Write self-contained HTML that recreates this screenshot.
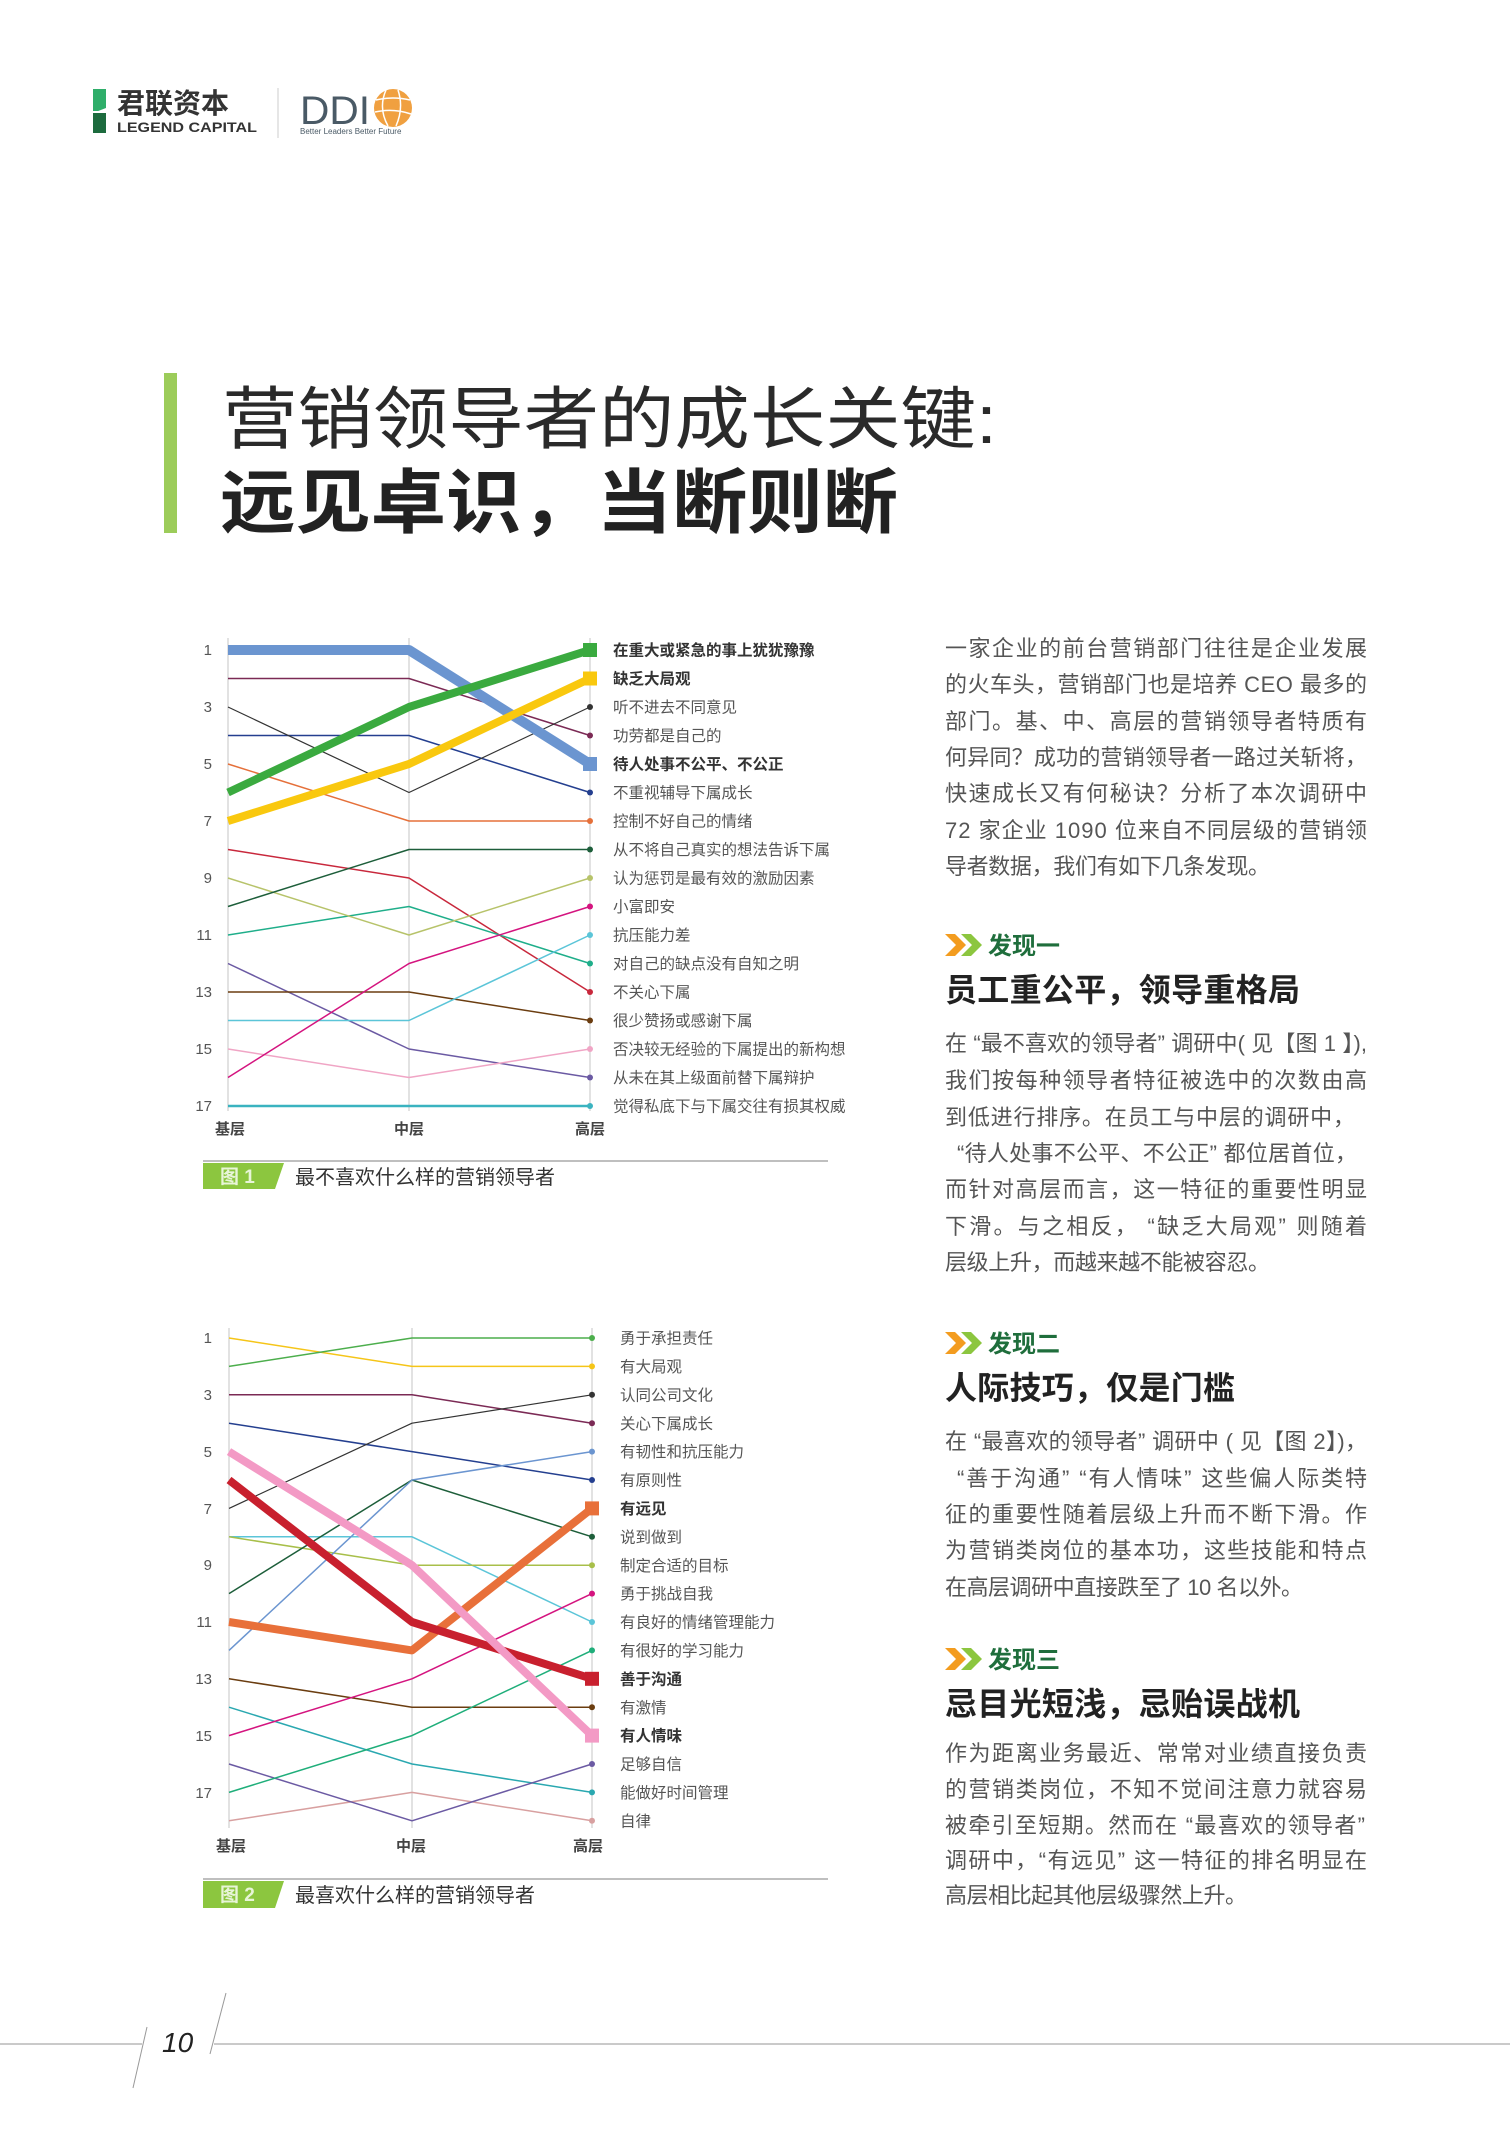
<!DOCTYPE html>
<html><head><meta charset="utf-8"><style>
html,body{margin:0;padding:0;background:#fff;}
svg{display:block;}
text{font-family:"Liberation Sans","Noto Sans CJK SC",sans-serif;}
.b{font-size:22px;fill:#555;}
.l1{font-size:15.5px;fill:#555;}
.bl{font-weight:bold;fill:#333;}
.rk{font-size:15px;fill:#555;text-anchor:end;}
.ax{font-size:15px;fill:#444;font-weight:bold;text-anchor:middle;}
</style></head><body>
<svg width="1510" height="2140" viewBox="0 0 1510 2140" xmlns="http://www.w3.org/2000/svg">
<!-- header -->
<rect x="93" y="89" width="13" height="22" fill="#2fae6a"/>
<rect x="93" y="113" width="13" height="20" fill="#1d6b3e"/>
<polygon points="93,113 106,108 106,113" fill="#fff"/>
<text x="117" y="113" font-size="28" font-weight="bold" fill="#333">君联资本</text>
<text x="117" y="132" font-size="14" font-weight="bold" fill="#333" textLength="140" lengthAdjust="spacingAndGlyphs">LEGEND CAPITAL</text>
<line x1="278" y1="88" x2="278" y2="138" stroke="#ccc" stroke-width="1"/>
<text x="300" y="124" font-size="40" fill="#4a5a66" textLength="70" lengthAdjust="spacingAndGlyphs">DDI</text>
<circle cx="393" cy="108" r="19" fill="#f0a040"/>
<path d="M376 100 Q393 96 410 100 M375 112 Q393 108 411 114 M386 90 Q378 108 388 126 M398 90 Q404 108 396 126" stroke="#fff" stroke-width="1.5" fill="none"/>
<text x="300" y="134" font-size="8" fill="#4a5a66">Better Leaders  Better Future</text>
<!-- title -->
<rect x="164" y="373" width="13" height="160" fill="#9ccc5a"/>
<text x="222" y="443" font-size="68" fill="#2a2a2a" textLength="775" lengthAdjust="spacingAndGlyphs">营销领导者的成长关键:</text>
<text x="220" y="527" font-size="70" font-weight="bold" fill="#222" textLength="678" lengthAdjust="spacingAndGlyphs">远见卓识，当断则断</text>

<!-- chart 1 -->
<g stroke="#cfcfcf" stroke-width="1.2"><line x1="228" y1="638" x2="228" y2="1111"/><line x1="409" y1="638" x2="409" y2="1111"/><line x1="590" y1="638" x2="590" y2="1111"/></g>
<g class="rk"><text x="212" y="655">1</text><text x="212" y="712">3</text><text x="212" y="769">5</text><text x="212" y="826">7</text><text x="212" y="883">9</text><text x="212" y="940">11</text><text x="212" y="997">13</text><text x="212" y="1054">15</text><text x="212" y="1111">17</text></g>
<g fill="none" stroke-linejoin="round">
<polyline points="228,1106 409,1106 590,1106" stroke="#3ab3c0" stroke-width="2.5"/>
<polyline points="228,963.5 409,1049 590,1077.5" stroke="#6b5aa3" stroke-width="1.5"/>
<polyline points="228,1049 409,1077.5 590,1049" stroke="#f0a5c5" stroke-width="1.5"/>
<polyline points="228,992 409,992 590,1020.5" stroke="#6b3d10" stroke-width="1.5"/>
<polyline points="228,849.5 409,878 590,992" stroke="#c8283c" stroke-width="1.5"/>
<polyline points="228,935 409,906.5 590,963.5" stroke="#1fae8a" stroke-width="1.5"/>
<polyline points="228,1020.5 409,1020.5 590,935" stroke="#5bc5d8" stroke-width="1.5"/>
<polyline points="228,1077.5 409,963.5 590,906.5" stroke="#d4147f" stroke-width="1.5"/>
<polyline points="228,878 409,935 590,878" stroke="#b7c36a" stroke-width="1.5"/>
<polyline points="228,906.5 409,849.5 590,849.5" stroke="#1d5e3a" stroke-width="1.5"/>
<polyline points="228,764 409,821 590,821" stroke="#e5703a" stroke-width="1.5"/>
<polyline points="228,735.5 409,735.5 590,792.5" stroke="#243f8f" stroke-width="1.5"/>
<polyline points="228,678.5 409,678.5 590,735.5" stroke="#7b2a55" stroke-width="1.5"/>
<polyline points="228,707 409,792.5 590,707" stroke="#333" stroke-width="1.2"/>
<polyline points="228,650 409,650 590,764" stroke="#6b95d0" stroke-width="10"/>
<polyline points="228,821 409,764 590,678.5" stroke="#f9c80e" stroke-width="8"/>
<polyline points="228,792.5 409,707 590,650" stroke="#3aaa3f" stroke-width="8"/>
</g>
<g>
<rect x="583" y="643" width="14" height="14" fill="#3aaa3f"/>
<rect x="583" y="671.5" width="14" height="14" fill="#f9c80e"/>
<rect x="583" y="757" width="14" height="14" fill="#6b95d0"/>
<circle cx="590" cy="707" r="3" fill="#333"/><circle cx="590" cy="735.5" r="3" fill="#7b2a55"/>
<circle cx="590" cy="792.5" r="3" fill="#243f8f"/><circle cx="590" cy="821" r="3" fill="#e5703a"/>
<circle cx="590" cy="849.5" r="3" fill="#1d5e3a"/><circle cx="590" cy="878" r="3" fill="#b7c36a"/>
<circle cx="590" cy="906.5" r="3" fill="#d4147f"/><circle cx="590" cy="935" r="3" fill="#5bc5d8"/>
<circle cx="590" cy="963.5" r="3" fill="#1fae8a"/><circle cx="590" cy="992" r="3" fill="#c8283c"/>
<circle cx="590" cy="1020.5" r="3" fill="#6b3d10"/><circle cx="590" cy="1049" r="3" fill="#f0a5c5"/>
<circle cx="590" cy="1077.5" r="3" fill="#6b5aa3"/><circle cx="590" cy="1106" r="3" fill="#3ab3c0"/>
</g>
<g class="l1">
<text x="613" y="655.5" class="bl">在重大或紧急的事上犹犹豫豫</text>
<text x="613" y="684" class="bl">缺乏大局观</text>
<text x="613" y="712.5">听不进去不同意见</text>
<text x="613" y="741">功劳都是自己的</text>
<text x="613" y="769.5" class="bl">待人处事不公平、不公正</text>
<text x="613" y="798">不重视辅导下属成长</text>
<text x="613" y="826.5">控制不好自己的情绪</text>
<text x="613" y="855">从不将自己真实的想法告诉下属</text>
<text x="613" y="883.5">认为惩罚是最有效的激励因素</text>
<text x="613" y="912">小富即安</text>
<text x="613" y="940.5">抗压能力差</text>
<text x="613" y="969">对自己的缺点没有自知之明</text>
<text x="613" y="997.5">不关心下属</text>
<text x="613" y="1026">很少赞扬或感谢下属</text>
<text x="613" y="1054.5">否决较无经验的下属提出的新构想</text>
<text x="613" y="1083">从未在其上级面前替下属辩护</text>
<text x="613" y="1111.5">觉得私底下与下属交往有损其权威</text>
</g>
<g class="ax"><text x="230" y="1134">基层</text><text x="409" y="1134">中层</text><text x="590" y="1134">高层</text></g>
<line x1="203" y1="1161" x2="828" y2="1161" stroke="#aaa" stroke-width="1.5"/>
<polygon points="203,1163 284,1163 275,1189 203,1189" fill="#8cc63f"/>
<text x="220" y="1183" font-size="19" font-weight="bold" fill="#e8f5d8">图 1</text>
<text x="295" y="1184" font-size="20" fill="#333">最不喜欢什么样的营销领导者</text>

<!-- chart 2 -->
<g stroke="#cfcfcf" stroke-width="1.2"><line x1="229" y1="1328" x2="229" y2="1828"/><line x1="412" y1="1328" x2="412" y2="1828"/><line x1="592" y1="1328" x2="592" y2="1828"/></g>
<g class="rk"><text x="212" y="1343">1</text><text x="212" y="1400">3</text><text x="212" y="1457">5</text><text x="212" y="1514">7</text><text x="212" y="1570">9</text><text x="212" y="1627">11</text><text x="212" y="1684">13</text><text x="212" y="1741">15</text><text x="212" y="1798">17</text></g>
<g fill="none" stroke-linejoin="round" stroke-width="1.5">
<polyline points="229,1820.8 412,1792.4 592,1820.8" stroke="#d8a0a0"/>
<polyline points="229,1707.2 412,1764 592,1792.4" stroke="#2aa8b0"/>
<polyline points="229,1764 412,1820.8 592,1764" stroke="#6b5aa3"/>
<polyline points="229,1678.8 412,1707.2 592,1707.2" stroke="#6b3d10"/>
<polyline points="229,1792.4 412,1735.6 592,1650.4" stroke="#1fae7a"/>
<polyline points="229,1536.8 412,1536.8 592,1622" stroke="#5bc5d8"/>
<polyline points="229,1735.6 412,1678.8 592,1593.6" stroke="#d4147f"/>
<polyline points="229,1536.8 412,1565.2 592,1565.2" stroke="#a8bf4a"/>
<polyline points="229,1593.6 412,1480 592,1536.8" stroke="#1d5e3a"/>
<polyline points="229,1423.2 412,1451.6 592,1480" stroke="#243f8f"/>
<polyline points="229,1650.4 412,1480 592,1451.6" stroke="#6b95d0"/>
<polyline points="229,1394.8 412,1394.8 592,1423.2" stroke="#7b2a55"/>
<polyline points="229,1508.4 412,1423.2 592,1394.8" stroke="#333" stroke-width="1.2"/>
<polyline points="229,1338 412,1366.4 592,1366.4" stroke="#f5c518"/>
<polyline points="229,1366.4 412,1338 592,1338" stroke="#4cae4c"/>
<polyline points="229,1622 412,1650.4 592,1508.4" stroke="#e8703a" stroke-width="8"/>
<polyline points="229,1480 412,1622 592,1678.8" stroke="#c8202e" stroke-width="8"/>
<polyline points="229,1451.6 412,1565.2 592,1735.6" stroke="#f39ac5" stroke-width="8"/>
</g>
<g>
<rect x="585" y="1501.4" width="14" height="14" fill="#e8703a"/>
<rect x="585" y="1671.8" width="14" height="14" fill="#c8202e"/>
<rect x="585" y="1728.6" width="14" height="14" fill="#f39ac5"/>
<circle cx="592" cy="1338" r="3" fill="#4cae4c"/><circle cx="592" cy="1366.4" r="3" fill="#f5c518"/>
<circle cx="592" cy="1394.8" r="3" fill="#333"/><circle cx="592" cy="1423.2" r="3" fill="#7b2a55"/>
<circle cx="592" cy="1451.6" r="3" fill="#6b95d0"/><circle cx="592" cy="1480" r="3" fill="#243f8f"/>
<circle cx="592" cy="1536.8" r="3" fill="#1d5e3a"/><circle cx="592" cy="1565.2" r="3" fill="#a8bf4a"/>
<circle cx="592" cy="1593.6" r="3" fill="#d4147f"/><circle cx="592" cy="1622" r="3" fill="#5bc5d8"/>
<circle cx="592" cy="1650.4" r="3" fill="#1fae7a"/><circle cx="592" cy="1707.2" r="3" fill="#6b3d10"/>
<circle cx="592" cy="1764" r="3" fill="#6b5aa3"/><circle cx="592" cy="1792.4" r="3" fill="#2aa8b0"/>
<circle cx="592" cy="1820.8" r="3" fill="#d8a0a0"/>
</g>
<g class="l1">
<text x="620" y="1343.5">勇于承担责任</text>
<text x="620" y="1372">有大局观</text>
<text x="620" y="1400.5">认同公司文化</text>
<text x="620" y="1429">关心下属成长</text>
<text x="620" y="1457">有韧性和抗压能力</text>
<text x="620" y="1485.5">有原则性</text>
<text x="620" y="1514" class="bl">有远见</text>
<text x="620" y="1542.5">说到做到</text>
<text x="620" y="1571">制定合适的目标</text>
<text x="620" y="1599">勇于挑战自我</text>
<text x="620" y="1627.5">有良好的情绪管理能力</text>
<text x="620" y="1656">有很好的学习能力</text>
<text x="620" y="1684.5" class="bl">善于沟通</text>
<text x="620" y="1713">有激情</text>
<text x="620" y="1741" class="bl">有人情味</text>
<text x="620" y="1769.5">足够自信</text>
<text x="620" y="1798">能做好时间管理</text>
<text x="620" y="1826.5">自律</text>
</g>
<g class="ax"><text x="231" y="1851">基层</text><text x="411" y="1851">中层</text><text x="588" y="1851">高层</text></g>
<line x1="203" y1="1879" x2="828" y2="1879" stroke="#aaa" stroke-width="1.5"/>
<polygon points="203,1881 284,1881 275,1908 203,1908" fill="#8cc63f"/>
<text x="220" y="1901" font-size="19" font-weight="bold" fill="#e8f5d8">图 2</text>
<text x="295" y="1902" font-size="20" fill="#333">最喜欢什么样的营销领导者</text>

<!-- right column -->
<g class="b">
<text x="945" y="656" textLength="422">一家企业的前台营销部门往往是企业发展</text>
<text x="945" y="692" textLength="422">的火车头，营销部门也是培养 CEO 最多的</text>
<text x="945" y="729" textLength="422">部门。基、中、高层的营销领导者特质有</text>
<text x="945" y="765" textLength="422">何异同？成功的营销领导者一路过关斩将，</text>
<text x="945" y="801" textLength="422">快速成长又有何秘诀？分析了本次调研中</text>
<text x="945" y="838" textLength="422">72 家企业 1090 位来自不同层级的营销领</text>
<text x="945" y="874" textLength="325">导者数据，我们有如下几条发现。</text>
</g>
<g id="chev">
<polygon points="945,934 955,934 966,945 955,956 945,956 956,945" fill="#f39c1f"/>
<polygon points="961,934 971,934 982,945 971,956 961,956 972,945" fill="#8cc63f"/>
</g>
<text x="988" y="954" font-size="24" font-weight="bold" fill="#1f6e3c">发现一</text>
<text x="945" y="1001" font-size="32" font-weight="bold" fill="#222" textLength="355">员工重公平，领导重格局</text>
<g class="b">
<text x="945" y="1051" textLength="422">在 “最不喜欢的领导者” 调研中( 见【图 1 】),</text>
<text x="945" y="1088" textLength="422">我们按每种领导者特征被选中的次数由高</text>
<text x="945" y="1125" textLength="410">到低进行排序。在员工与中层的调研中，</text>
<text x="957" y="1161" textLength="400">“待人处事不公平、不公正” 都位居首位，</text>
<text x="945" y="1197" textLength="422">而针对高层而言，这一特征的重要性明显</text>
<text x="945" y="1234" textLength="422">下滑。与之相反，  “缺乏大局观” 则随着</text>
<text x="945" y="1270" textLength="325">层级上升，而越来越不能被容忍。</text>
</g>
<g transform="translate(0,398)"><polygon points="945,934 955,934 966,945 955,956 945,956 956,945" fill="#f39c1f"/><polygon points="961,934 971,934 982,945 971,956 961,956 972,945" fill="#8cc63f"/></g>
<text x="988" y="1352" font-size="24" font-weight="bold" fill="#1f6e3c">发现二</text>
<text x="945" y="1399" font-size="32" font-weight="bold" fill="#222" textLength="290">人际技巧，仅是门槛</text>
<g class="b">
<text x="945" y="1449" textLength="422">在 “最喜欢的领导者” 调研中 ( 见【图 2】)，</text>
<text x="957" y="1486" textLength="410">“善于沟通” “有人情味” 这些偏人际类特</text>
<text x="945" y="1522" textLength="422">征的重要性随着层级上升而不断下滑。作</text>
<text x="945" y="1558" textLength="422">为营销类岗位的基本功，这些技能和特点</text>
<text x="945" y="1595" textLength="358">在高层调研中直接跌至了 10 名以外。</text>
</g>
<g transform="translate(0,714)"><polygon points="945,934 955,934 966,945 955,956 945,956 956,945" fill="#f39c1f"/><polygon points="961,934 971,934 982,945 971,956 961,956 972,945" fill="#8cc63f"/></g>
<text x="988" y="1668" font-size="24" font-weight="bold" fill="#1f6e3c">发现三</text>
<text x="945" y="1715" font-size="32" font-weight="bold" fill="#222" textLength="355">忌目光短浅，忌贻误战机</text>
<g class="b">
<text x="945" y="1761" textLength="422">作为距离业务最近、常常对业绩直接负责</text>
<text x="945" y="1797" textLength="422">的营销类岗位，不知不觉间注意力就容易</text>
<text x="945" y="1833" textLength="420">被牵引至短期。然而在 “最喜欢的领导者”</text>
<text x="945" y="1868" textLength="422">调研中，“有远见” 这一特征的排名明显在</text>
<text x="945" y="1903" textLength="302">高层相比起其他层级骤然上升。</text>
</g>

<!-- footer -->
<line x1="0" y1="2044" x2="142" y2="2044" stroke="#aaa" stroke-width="1.2"/>
<line x1="147" y1="2027" x2="133" y2="2088" stroke="#999" stroke-width="1"/>
<text x="162" y="2052" font-size="28" font-style="italic" fill="#222">10</text>
<line x1="226" y1="1993" x2="210" y2="2054" stroke="#999" stroke-width="1"/>
<line x1="214" y1="2044" x2="1510" y2="2044" stroke="#aaa" stroke-width="1.2"/>
</svg>
</body></html>
